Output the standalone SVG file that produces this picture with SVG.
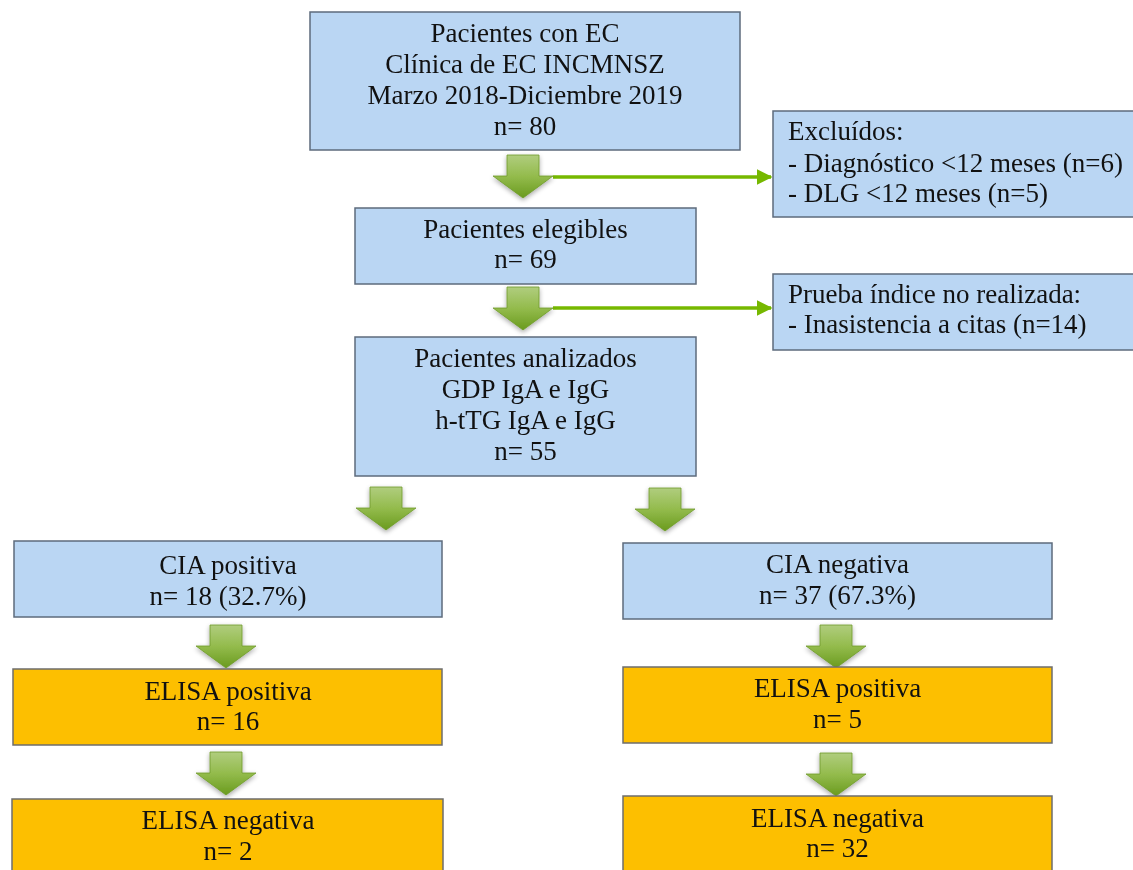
<svg xmlns="http://www.w3.org/2000/svg" width="1133" height="870" viewBox="0 0 1133 870">
<style>
.b{fill:#bad6f3;stroke:#5d6b7c;stroke-width:1.5}
.o{fill:#fdbf00;stroke:#6d6d6d;stroke-width:1.5}
text{font-family:"Liberation Serif","Times New Roman",serif;font-size:27px;fill:#111}
.c{text-anchor:middle}
.ln{stroke:#76b800;stroke-width:3.5;fill:none}
</style>
<defs>
<linearGradient id="ag" x1="0" y1="0" x2="0" y2="1">
<stop offset="0" stop-color="#b0cd7e"/>
<stop offset="0.5" stop-color="#93bb4c"/>
<stop offset="1" stop-color="#6a9b1e"/>
</linearGradient>
<filter id="sh" x="-30%" y="-30%" width="160%" height="170%">
<feGaussianBlur in="SourceAlpha" stdDeviation="2.5"/>
<feOffset dx="0" dy="2" result="o"/>
<feComponentTransfer><feFuncA type="linear" slope="0.35"/></feComponentTransfer>
<feMerge><feMergeNode/><feMergeNode in="SourceGraphic"/></feMerge>
</filter>
<path id="ba" d="M-16,0 H16 V21 H30 L0,43 L-30,21 H-16 Z" fill="url(#ag)" stroke="#6f9a2c" stroke-width="0.8"/>
<marker id="mh" viewBox="0 0 10 10" refX="9" refY="5" markerWidth="4.5" markerHeight="4.5" orient="auto" markerUnits="strokeWidth">
<path d="M0,0 L10,5 L0,10 Z" fill="#76b800"/>
</marker>
</defs>

<g id="connectors">
<line class="ln" x1="553" y1="177" x2="771" y2="177" marker-end="url(#mh)"/>
<line class="ln" x1="553" y1="308" x2="771" y2="308" marker-end="url(#mh)"/>
<g filter="url(#sh)">
<use href="#ba" transform="translate(523,155)"/>
<use href="#ba" transform="translate(523,287)"/>
<use href="#ba" transform="translate(386,487)"/>
<use href="#ba" transform="translate(665,488)"/>
<use href="#ba" transform="translate(226,625)"/>
<use href="#ba" transform="translate(226,752)"/>
<use href="#ba" transform="translate(836,625)"/>
<use href="#ba" transform="translate(836,753)"/>
</g>
</g>

<g id="n1">
<rect class="b" x="310" y="12" width="430" height="138"/>
<text class="c" x="525" y="42">Pacientes con EC</text>
<text class="c" x="525" y="73">Clínica de EC INCMNSZ</text>
<text class="c" x="525" y="104">Marzo 2018-Diciembre 2019</text>
<text class="c" x="525" y="135">n= 80</text>
</g>

<g id="excl1">
<rect class="b" x="773" y="111" width="370" height="106"/>
<text x="788" y="140">Excluídos:</text>
<text x="788" y="172">- Diagnóstico &lt;12 meses (n=6)</text>
<text x="788" y="202">- DLG &lt;12 meses (n=5)</text>
</g>

<g id="n2">
<rect class="b" x="355" y="208" width="341" height="76"/>
<text class="c" x="525.5" y="238">Pacientes elegibles</text>
<text class="c" x="525.5" y="268">n= 69</text>
</g>

<g id="excl2">
<rect class="b" x="773" y="274" width="370" height="76"/>
<text x="788" y="303">Prueba índice no realizada:</text>
<text x="788" y="333">- Inasistencia a citas (n=14)</text>
</g>

<g id="n3">
<rect class="b" x="355" y="337" width="341" height="139"/>
<text class="c" x="525.5" y="367">Pacientes analizados</text>
<text class="c" x="525.5" y="398">GDP IgA e IgG</text>
<text class="c" x="525.5" y="429">h-tTG IgA e IgG</text>
<text class="c" x="525.5" y="460">n= 55</text>
</g>

<g id="n4">
<rect class="b" x="14" y="541" width="428" height="76"/>
<text class="c" x="228" y="574">CIA positiva</text>
<text class="c" x="228" y="605">n= 18 (32.7%)</text>
</g>

<g id="n5">
<rect class="b" x="623" y="543" width="429" height="76"/>
<text class="c" x="837.5" y="573">CIA negativa</text>
<text class="c" x="837.5" y="604">n= 37 (67.3%)</text>
</g>

<g id="n6">
<rect class="o" x="13" y="669" width="429" height="76"/>
<text class="c" x="228" y="700">ELISA positiva</text>
<text class="c" x="228" y="730">n= 16</text>
</g>

<g id="n7">
<rect class="o" x="623" y="667" width="429" height="76"/>
<text class="c" x="837.5" y="697">ELISA positiva</text>
<text class="c" x="837.5" y="728">n= 5</text>
</g>

<g id="n8">
<rect class="o" x="12" y="799" width="431" height="80"/>
<text class="c" x="228" y="829">ELISA negativa</text>
<text class="c" x="228" y="860">n= 2</text>
</g>

<g id="n9">
<rect class="o" x="623" y="796" width="429" height="80"/>
<text class="c" x="837.5" y="827">ELISA negativa</text>
<text class="c" x="837.5" y="857">n= 32</text>
</g>
</svg>
